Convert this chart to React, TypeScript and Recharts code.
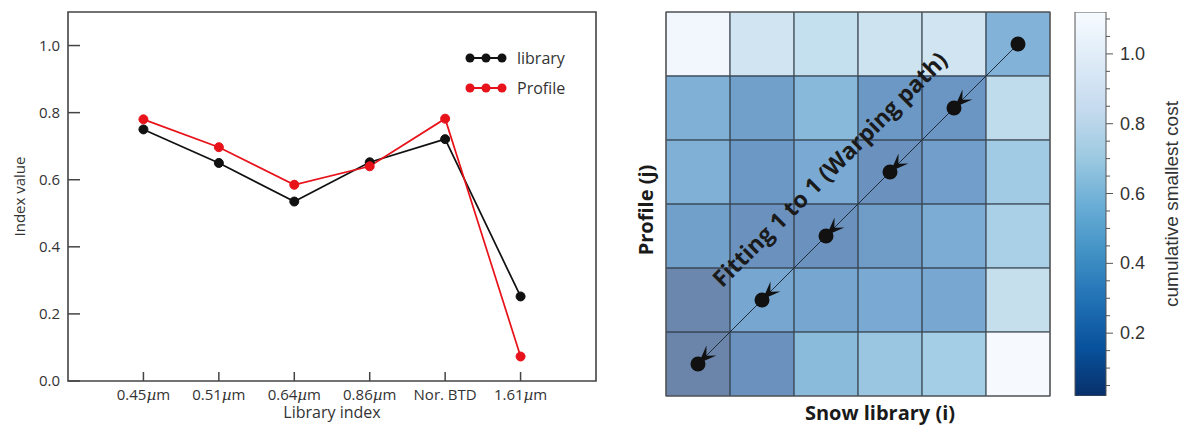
import React from 'react';
import {
  ComposedChart,
  BarChart,
  Bar,
  Line,
  XAxis,
  YAxis,
  ReferenceArea,
  ReferenceDot,
  Label,
} from 'recharts';

// ---------- Left chart data ----------
const categories = ['0.45µm', '0.51µm', '0.64µm', '0.86µm', 'Nor. BTD', '1.61µm'];
const libraryValues = [0.75, 0.65, 0.535, 0.652, 0.721, 0.252];
const profileValues = [0.78, 0.697, 0.585, 0.64, 0.782, 0.073];
const yTicks = [0, 0.2, 0.4, 0.6, 0.8, 1.0];
const xPositions = [1, 2, 3, 4, 5, 6];
const seriesNames = ['library', 'Profile'];
const seriesColors = ['#111111', '#e8121a'];

// ---------- Right chart data ----------
// rows listed from top (Profile j = 5) to bottom (j = 0); columns i = 0..5
const costRows = [
  [1.03, 0.77, 0.705, 0.76, 0.77, 0.35],
  [0.34, 0.22, 0.39, 0.17, 0.15, 0.68],
  [0.34, 0.17, 0.295, 0.13, 0.21, 0.54],
  [0.22, 0.13, 0.13, 0.2, 0.31, 0.58],
  [0.05, 0.27, 0.27, 0.3, 0.28, 0.71],
  [0.03, 0.13, 0.41, 0.5, 0.56, 1.08],
];
const pathI = [0, 1, 2, 3, 4, 5];
const pathJ = [0, 1, 2, 3, 4, 5];
const annotationText = 'Fitting 1 to 1 (Warping path)';
const annotationPos = { x: 2.55, y: 3.55 };
const colorMin = 0.02;
const colorMax = 1.12;
const cbarMajor = [0.2, 0.4, 0.6, 0.8, 1.0];
const cbarTicks = [
  0.05, 0.1, 0.15, 0.2, 0.25, 0.3, 0.35, 0.4, 0.45, 0.5, 0.55, 0.6, 0.65, 0.7, 0.75,
  0.8, 0.85, 0.9, 0.95, 1.0, 1.05, 1.1,
];

const BLUES = [
  [247, 251, 255],
  [222, 235, 247],
  [198, 219, 239],
  [158, 202, 225],
  [107, 174, 214],
  [66, 146, 198],
  [33, 113, 181],
  [8, 81, 156],
  [8, 48, 107],
];
const toHex = (c: number[]) =>
  '#' + c.map((v) => Math.round(v).toString(16).padStart(2, '0')).join('');
function blues(t: number) {
  const tt = Math.max(0, Math.min(1, t));
  const p = tt * 8;
  const i = Math.min(7, Math.floor(p));
  const f = p - i;
  const a = BLUES[i];
  const b = BLUES[i + 1];
  return toHex([0, 1, 2].map((k) => a[k] + (b[k] - a[k]) * f));
}
const costColor = (v: number) => blues((colorMax - v) / (colorMax - colorMin));

const leftData = xPositions.map((x, i) => ({
  x,
  library: libraryValues[i],
  profile: profileValues[i],
}));
const pathData = pathI.map((i, k) => ({ x: i + 0.5, y: pathJ[k] + 0.5 }));
const cbarData = [{ name: 'cbar', range: [colorMin, colorMax] }];

const LEFT_FONT = '"Open Sans", "Noto Sans", sans-serif';
const RIGHT_FONT = '"Liberation Sans", Arial, sans-serif';
const BOLD_FONT = '"Open Sans", "Noto Sans", sans-serif';

const XTick = (props: any) => {
  const { x, y, payload } = props;
  const label = categories[xPositions.indexOf(payload.value)] ?? '';
  const axisY = y - 8;
  const parts = label.split('µ');
  return (
    <g>
      <line x1={x} x2={x} y1={axisY} y2={axisY - 9} stroke="#444" strokeWidth={1.5} />
      <text
        x={x}
        y={y + 11}
        textAnchor="middle"
        fontSize={15}
        fill="#333"
        fontFamily={LEFT_FONT}
      >
        {parts.length > 1 ? (
          <>
            {parts[0]}
            <tspan fontStyle="italic" fontFamily='"DejaVu Serif", serif'>µ</tspan>
            {parts[1]}
          </>
        ) : (
          label
        )}
      </text>
    </g>
  );
};

const YTickLeft = (props: any) => {
  const { x, y, payload } = props;
  const axisX = x + 8;
  return (
    <g>
      <line x1={axisX} x2={axisX + 12} y1={y} y2={y} stroke="#444" strokeWidth={1.5} />
      <text
        x={x}
        y={y}
        dy={5}
        textAnchor="end"
        fontSize={15}
        fill="#333"
        fontFamily={LEFT_FONT}
      >
        {payload.value.toFixed(1)}
      </text>
    </g>
  );
};

const YTickRight = (props: any) => {
  const { x, y } = props;
  return <line x1={x - 12} x2={x} y1={y} y2={y} stroke="#444" strokeWidth={1.5} />;
};

const LegendBox = () => (
  <div style={{ fontFamily: LEFT_FONT, fontSize: 16, color: '#333', lineHeight: '20px' }}>
    {seriesNames.map((name, k) => (
      <div key={name} style={{ display: 'flex', alignItems: 'center', height: 30 }}>
        <svg width={55} height={14} style={{ display: 'block' }}>
          <line x1={8} x2={40} y1={7} y2={7} stroke={seriesColors[k]} strokeWidth={2} />
          {[8, 24, 40].map((cx) => (
            <circle key={cx} cx={cx} cy={7} r={4.5} fill={seriesColors[k]} />
          ))}
        </svg>
        <span>{name}</span>
      </div>
    ))}
  </div>
);

const PathDot = (props: any) => {
  const { cx, cy, index } = props;
  if (cx == null || cy == null) return <g key={index} />;
  const last = index === pathI.length - 1;
  const d = [Math.SQRT1_2, -Math.SQRT1_2];
  const n = [Math.SQRT1_2, Math.SQRT1_2];
  const tip = [cx + d[0] * 1, cy + d[1] * 1];
  const L = 18;
  const W = 7;
  const back = [tip[0] + d[0] * L, tip[1] + d[1] * L];
  const notch = [tip[0] + d[0] * L * 0.6, tip[1] + d[1] * L * 0.6];
  const p1 = [back[0] + n[0] * W, back[1] + n[1] * W];
  const p2 = [back[0] - n[0] * W, back[1] - n[1] * W];
  return (
    <g key={index}>
      {!last && (
        <polygon
          points={`${tip[0]},${tip[1]} ${p1[0]},${p1[1]} ${notch[0]},${notch[1]} ${p2[0]},${p2[1]}`}
          fill="#111"
        />
      )}
      <circle cx={cx} cy={cy} r={7.5} fill="#111" />
    </g>
  );
};

const AnnotationShape = (props: any) => {
  const { cx, cy } = props;
  return (
    <text
      x={cx}
      y={cy}
      transform={`rotate(-45 ${cx} ${cy})`}
      textAnchor="middle"
      dominantBaseline="central"
      fontSize={23}
      fontWeight={700}
      fill="#1a1a1a"
      fontFamily={BOLD_FONT}
    >
      {annotationText}
    </text>
  );
};

const CbarTick = (props: any) => {
  const { x, y, payload } = props;
  const major = cbarMajor.some((m) => Math.abs(m - payload.value) < 1e-6);
  return (
    <g>
      <line x1={x} x2={x + (major ? 7 : 4)} y1={y} y2={y} stroke="#555" strokeWidth={1} />
      {major && (
        <text
          x={x + 14}
          y={y}
          dy={6}
          textAnchor="start"
          fontSize={18}
          fill="#333"
          fontFamily={RIGHT_FONT}
        >
          {payload.value.toFixed(1)}
        </text>
      )}
    </g>
  );
};

function LeftChart() {
  return (
    <ComposedChart
      width={600}
      height={436}
      data={leftData}
      margin={{ top: 12, right: 0, left: 0, bottom: 0 }}
    >
      <XAxis
        dataKey="x"
        type="number"
        domain={[0, 7]}
        ticks={xPositions}
        interval={0}
        height={55}
        axisLine={false}
        tickLine={false}
        tickSize={0}
        tickMargin={8}
        tick={<XTick />}
      >
        <Label
          content={(p: any) => {
            const vb = p.viewBox;
            return (
              <text
                x={vb.x + vb.width / 2}
                y={vb.y + 37}
                textAnchor="middle"
                fontSize={16}
                fill="#333"
                fontFamily={LEFT_FONT}
              >
                Library index
              </text>
            );
          }}
        />
      </XAxis>
      <YAxis
        yAxisId="l"
        type="number"
        domain={[0, 1.1]}
        ticks={yTicks}
        width={68}
        axisLine={false}
        tickLine={false}
        tickSize={0}
        tickMargin={8}
        tick={<YTickLeft />}
      >
        <Label
          content={(p: any) => {
            const vb = p.viewBox;
            const cx = vb.x + 19;
            const cy = vb.y + vb.height / 2;
            return (
              <text
                x={cx}
                y={cy}
                transform={`rotate(-90 ${cx} ${cy})`}
                textAnchor="middle"
                dominantBaseline="central"
                fontSize={15}
                fill="#333"
                fontFamily={LEFT_FONT}
              >
                Index value
              </text>
            );
          }}
        />
      </YAxis>
      <YAxis
        yAxisId="r"
        orientation="right"
        type="number"
        domain={[0, 1.1]}
        ticks={yTicks}
        width={4}
        axisLine={false}
        tickLine={false}
        tickSize={0}
        tickMargin={0}
        tick={<YTickRight />}
      />
      <ReferenceArea
        yAxisId="l"
        x1={0}
        x2={7}
        y1={0}
        y2={1.1}
        fill="none"
        stroke="#444"
        strokeWidth={1.6}
      />
      <Line
        yAxisId="l"
        dataKey="library"
        name={seriesNames[0]}
        stroke={seriesColors[0]}
        strokeWidth={1.7}
        dot={{ r: 4.5, fill: seriesColors[0], stroke: seriesColors[0], strokeWidth: 1 }}
        isAnimationActive={false}
      />
      <Line
        yAxisId="l"
        dataKey="profile"
        name={seriesNames[1]}
        stroke={seriesColors[1]}
        strokeWidth={1.7}
        dot={{ r: 4.5, fill: seriesColors[1], stroke: seriesColors[1], strokeWidth: 1 }}
        isAnimationActive={false}
      />
    </ComposedChart>
  );
}

function RightChart() {
  return (
    <ComposedChart
      width={584}
      height={436}
      data={pathData}
      margin={{ top: 12, right: 134, left: 0, bottom: 0 }}
    >
      <XAxis
        dataKey="x"
        type="number"
        domain={[0, 6]}
        height={40}
        tick={false}
        tickLine={false}
        axisLine={false}
      >
        <Label
          content={(p: any) => {
            const vb = p.viewBox;
            return (
              <text
                x={vb.x + vb.width / 2 + 22}
                y={vb.y + 24}
                textAnchor="middle"
                fontSize={20}
                fontWeight={700}
                fill="#1a1a1a"
                fontFamily={BOLD_FONT}
              >
                Snow library (i)
              </text>
            );
          }}
        />
      </XAxis>
      <YAxis
        type="number"
        domain={[0, 6]}
        width={66}
        tick={false}
        tickLine={false}
        axisLine={false}
      >
        <Label
          content={(p: any) => {
            const vb = p.viewBox;
            const cx = vb.x + 45;
            const cy = vb.y + vb.height / 2 + 6;
            return (
              <text
                x={cx}
                y={cy}
                transform={`rotate(-90 ${cx} ${cy})`}
                textAnchor="middle"
                dominantBaseline="central"
                fontSize={20}
                fontWeight={700}
                fill="#1a1a1a"
                fontFamily={BOLD_FONT}
              >
                Profile (j)
              </text>
            );
          }}
        />
      </YAxis>
      {costRows.map((row, r) =>
        row.map((v, i) => {
          const j = costRows.length - 1 - r;
          return (
            <ReferenceArea
              key={`c-${r}-${i}`}
              x1={i}
              x2={i + 1}
              y1={j}
              y2={j + 1}
              fill={costColor(v)}
              fillOpacity={0.6}
              stroke="#3f4852"
              strokeWidth={1}
              strokeOpacity={1}
            />
          );
        })
      )}
      <ReferenceArea
        x1={0}
        x2={6}
        y1={0}
        y2={6}
        fill="none"
        stroke="#555"
        strokeWidth={1.2}
      />
      <Line
        dataKey="y"
        stroke="#1f2d3d"
        strokeWidth={1}
        dot={(p: any) => <PathDot key={p.index} {...p} />}
        activeDot={false}
        isAnimationActive={false}
      />
      <ReferenceDot
        x={annotationPos.x}
        y={annotationPos.y}
        r={0}
        shape={<AnnotationShape />}
      />
    </ComposedChart>
  );
}

function ColorBar() {
  return (
    <BarChart
      width={124}
      height={436}
      data={cbarData}
      barCategoryGap={0}
      margin={{ top: 12, right: 0, left: 15, bottom: 40 }}
    >
      <defs>
        <linearGradient id="cbarGrad" x1="0" y1="0" x2="0" y2="1">
          {BLUES.map((c, k) => (
            <stop key={k} offset={`${(k / 8) * 100}%`} stopColor={toHex(c)} />
          ))}
        </linearGradient>
      </defs>
      <XAxis dataKey="name" type="category" hide />
      <YAxis
        orientation="right"
        type="number"
        domain={[colorMin, colorMax]}
        allowDataOverflow
        ticks={cbarTicks}
        interval={0}
        width={78}
        axisLine={false}
        tickLine={false}
        tickSize={0}
        tickMargin={0}
        tick={<CbarTick />}
      >
        <Label
          content={(p: any) => {
            const vb = p.viewBox;
            const cx = vb.x + 65;
            const cy = vb.y + vb.height / 2;
            return (
              <text
                x={cx}
                y={cy}
                transform={`rotate(-90 ${cx} ${cy})`}
                textAnchor="middle"
                dominantBaseline="central"
                fontSize={19}
                fill="#333"
                fontFamily={RIGHT_FONT}
              >
                cumulative smallest cost
              </text>
            );
          }}
        />
      </YAxis>
      <Bar
        dataKey="range"
        fill="url(#cbarGrad)"
        stroke="#555"
        strokeWidth={1}
        isAnimationActive={false}
      />
    </BarChart>
  );
}

export default function App() {
  return (
    <div
      style={{
        position: 'absolute',
        left: 0,
        top: 0,
        width: 1184,
        height: 436,
        background: '#ffffff',
        overflow: 'hidden',
      }}
    >
      <div style={{ position: 'absolute', left: 0, top: 0 }}>
        <LeftChart />
      </div>
      <div style={{ position: 'absolute', left: 462, top: 43 }}>
        <LegendBox />
      </div>
      <div style={{ position: 'absolute', left: 600, top: 0 }}>
        <RightChart />
      </div>
      <div style={{ position: 'absolute', left: 1060, top: 0 }}>
        <ColorBar />
      </div>
    </div>
  );
}
